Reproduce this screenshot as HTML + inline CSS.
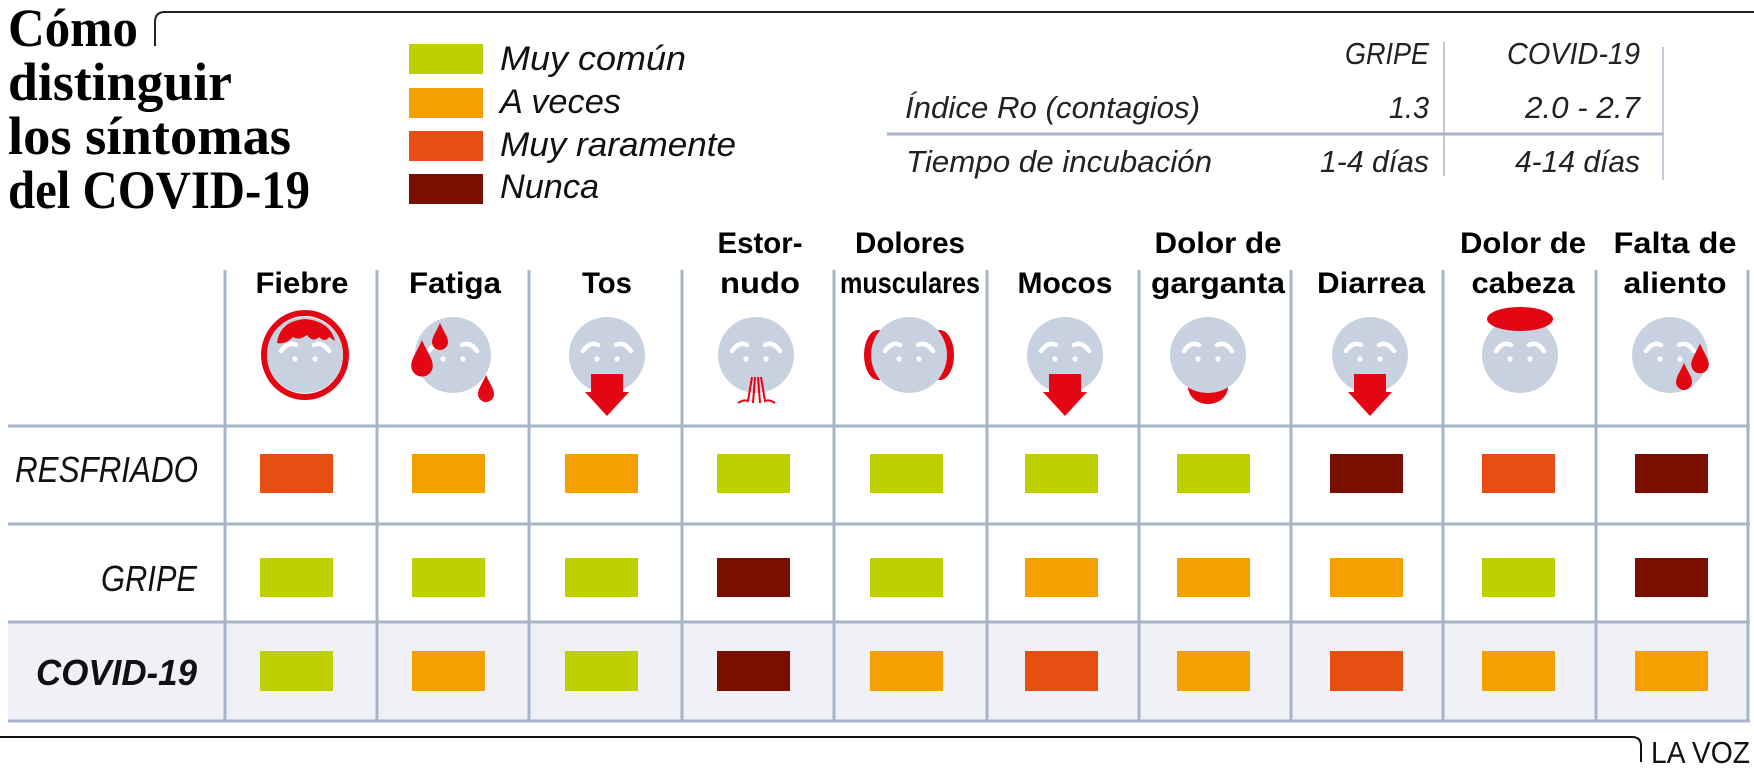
<!DOCTYPE html>
<html><head><meta charset="utf-8"><style>
html,body{margin:0;padding:0;background:#fff;}
svg{display:block;}
</style></head><body>
<svg width="1754" height="770" viewBox="0 0 1754 770" xmlns="http://www.w3.org/2000/svg">
<defs>
<g id="face">
<circle cx="0" cy="0" r="38" fill="#c8d1df"/>
<path d="M-24,-4 Q-17,-14 -9,-10" stroke="#fff" stroke-width="4.5" fill="none" stroke-linecap="round"/>
<path d="M24,-4 Q17,-14 9,-10" stroke="#fff" stroke-width="4.5" fill="none" stroke-linecap="round"/>
<circle cx="-10" cy="4" r="2.6" fill="#fff"/>
<circle cx="10" cy="4" r="2.6" fill="#fff"/>
</g>
<g id="arrow"><path d="M-16,19 H16 V37 H22 L0,61 L-22,37 H-16 Z" fill="#e30613"/></g>
<path id="drop" d="M0,-14 C4,-5 8,0 8,5 A8,8 0 0 1 -8,5 C-8,0 -4,-5 0,-14 Z" fill="#e30613"/>
</defs>

<g font-family="Liberation Serif, serif" font-weight="bold" font-size="54" fill="#000">
<text x="8" y="46" textLength="130" lengthAdjust="spacingAndGlyphs">Cómo</text>
<text x="8" y="100" textLength="224" lengthAdjust="spacingAndGlyphs">distinguir</text>
<text x="8" y="154" textLength="283" lengthAdjust="spacingAndGlyphs">los síntomas</text>
<text x="8" y="208" textLength="302" lengthAdjust="spacingAndGlyphs">del COVID-19</text>
</g>
<path d="M155,46 V22 Q155,12 165,12 H1754" stroke="#222" stroke-width="2" fill="none"/>

<rect x="409" y="44" width="74" height="30" fill="#bed000"/>
<rect x="409" y="88" width="74" height="30" fill="#f59f00"/>
<rect x="409" y="131" width="74" height="30" fill="#e84e11"/>
<rect x="409" y="174" width="74" height="30" fill="#7a0f00"/>
<g font-family="Liberation Sans, sans-serif" font-style="italic" font-size="34" fill="#111">
<text x="500" y="70" textLength="186" lengthAdjust="spacingAndGlyphs">Muy común</text>
<text x="500" y="113" textLength="121" lengthAdjust="spacingAndGlyphs">A veces</text>
<text x="500" y="156" textLength="236" lengthAdjust="spacingAndGlyphs">Muy raramente</text>
<text x="500" y="198" textLength="99" lengthAdjust="spacingAndGlyphs">Nunca</text>
</g>

<g stroke="#c3cbdb" stroke-width="2"><line x1="1444" y1="42" x2="1444" y2="176"/><line x1="1663" y1="47" x2="1663" y2="180"/></g>
<line x1="887" y1="134" x2="1663" y2="134" stroke="#a7b4c9" stroke-width="3"/>
<g font-family="Liberation Sans, sans-serif" font-style="italic" font-size="31" fill="#222">
<text x="1429" y="64" text-anchor="end" textLength="84" lengthAdjust="spacingAndGlyphs">GRIPE</text>
<text x="1640" y="64" text-anchor="end" textLength="133" lengthAdjust="spacingAndGlyphs">COVID-19</text>
<text x="905" y="118" textLength="295" lengthAdjust="spacingAndGlyphs">Índice Ro (contagios)</text>
<text x="1429" y="118" text-anchor="end" textLength="40" lengthAdjust="spacingAndGlyphs">1.3</text>
<text x="1640" y="118" text-anchor="end" textLength="115" lengthAdjust="spacingAndGlyphs">2.0 - 2.7</text>
<text x="906" y="172" textLength="306" lengthAdjust="spacingAndGlyphs">Tiempo de incubación</text>
<text x="1429" y="172" text-anchor="end" textLength="109" lengthAdjust="spacingAndGlyphs">1-4 días</text>
<text x="1640" y="172" text-anchor="end" textLength="125" lengthAdjust="spacingAndGlyphs">4-14 días</text>
</g>

<rect x="8" y="622" width="1741" height="99" fill="#eff1f6"/>

<g stroke="#a7b4c9" stroke-width="3">
<line x1="8" y1="426" x2="1750" y2="426"/>
<line x1="8" y1="524" x2="1750" y2="524"/>
<line x1="8" y1="622" x2="1750" y2="622"/>
<line x1="8" y1="721" x2="1750" y2="721"/>
<line x1="225" y1="270" x2="225" y2="721"/>
<line x1="377" y1="270" x2="377" y2="721"/>
<line x1="529" y1="270" x2="529" y2="721"/>
<line x1="682" y1="270" x2="682" y2="721"/>
<line x1="834" y1="270" x2="834" y2="721"/>
<line x1="987" y1="270" x2="987" y2="721"/>
<line x1="1139" y1="270" x2="1139" y2="721"/>
<line x1="1291" y1="270" x2="1291" y2="721"/>
<line x1="1443" y1="270" x2="1443" y2="721"/>
<line x1="1596" y1="270" x2="1596" y2="721"/>
<line x1="1748" y1="270" x2="1748" y2="721"/>
</g>

<g font-family="Liberation Sans, sans-serif" font-weight="bold" font-size="30" fill="#000" text-anchor="middle">
<text x="302" y="293" textLength="93" lengthAdjust="spacingAndGlyphs">Fiebre</text>
<text x="455" y="293" textLength="92" lengthAdjust="spacingAndGlyphs">Fatiga</text>
<text x="607" y="293" textLength="50" lengthAdjust="spacingAndGlyphs">Tos</text>
<text x="760" y="253" textLength="85" lengthAdjust="spacingAndGlyphs">Estor-</text>
<text x="760" y="293" textLength="80" lengthAdjust="spacingAndGlyphs">nudo</text>
<text x="910" y="253" textLength="110" lengthAdjust="spacingAndGlyphs">Dolores</text>
<text x="910" y="293" textLength="140" lengthAdjust="spacingAndGlyphs">musculares</text>
<text x="1065" y="293" textLength="95" lengthAdjust="spacingAndGlyphs">Mocos</text>
<text x="1218" y="253" textLength="127" lengthAdjust="spacingAndGlyphs">Dolor de</text>
<text x="1218" y="293" textLength="134" lengthAdjust="spacingAndGlyphs">garganta</text>
<text x="1371" y="293" textLength="108" lengthAdjust="spacingAndGlyphs">Diarrea</text>
<text x="1523" y="253" textLength="126" lengthAdjust="spacingAndGlyphs">Dolor de</text>
<text x="1523" y="293" textLength="103" lengthAdjust="spacingAndGlyphs">cabeza</text>
<text x="1675" y="253" textLength="123" lengthAdjust="spacingAndGlyphs">Falta de</text>
<text x="1675" y="293" textLength="103" lengthAdjust="spacingAndGlyphs">aliento</text>
</g>

<g transform="translate(305,355)">
<ellipse cx="0" cy="0" rx="41" ry="42" fill="none" stroke="#e30613" stroke-width="6"/>
<use href="#face"/>
<path d="M-28,-12 Q-25,-34 0,-36 Q25,-34 30,-14 L24,-18 Q20,-12 14,-18 Q8,-12 2,-20 Q-6,-14 -12,-18 Q-20,-10 -28,-12 Z" fill="#e30613"/>
</g>
<g transform="translate(453,355)"><use href="#face"/>
<use href="#drop" transform="translate(-31,4) scale(1.35)"/>
<use href="#drop" transform="translate(-13,-18)"/>
<use href="#drop" transform="translate(33,34)"/></g>
<g transform="translate(607,355)"><use href="#face"/><use href="#arrow"/></g>
<g transform="translate(756,355)"><use href="#face"/>
<g stroke="#e30613" stroke-width="2" fill="none">
<path d="M-4,22 L-8,46 Q-12,44 -18,48"/><path d="M-1,22 L-3,48"/><path d="M2,22 L4,48"/><path d="M5,22 L9,46 Q13,44 19,48"/>
</g></g>
<g transform="translate(909,355)">
<ellipse cx="-31" cy="0" rx="14" ry="25" fill="#e30613"/>
<ellipse cx="31" cy="0" rx="14" ry="25" fill="#e30613"/>
<use href="#face"/></g>
<g transform="translate(1065,355)"><use href="#face"/><use href="#arrow"/></g>
<g transform="translate(1208,355)">
<ellipse cx="0" cy="32" rx="20" ry="17" fill="#e30613"/>
<use href="#face"/></g>
<g transform="translate(1370,355)"><use href="#face"/><use href="#arrow"/></g>
<g transform="translate(1520,355)"><use href="#face"/>
<ellipse cx="0" cy="-36" rx="33" ry="12" fill="#e30613"/></g>
<g transform="translate(1670,355)"><use href="#face"/>
<use href="#drop" transform="translate(30,4) scale(1.1)"/>
<use href="#drop" transform="translate(14,22)"/></g>

<g font-family="Liberation Sans, sans-serif" font-style="italic" font-size="36" fill="#111" text-anchor="end">
<text x="198" y="482" textLength="183" lengthAdjust="spacingAndGlyphs">RESFRIADO</text>
<text x="197" y="591" textLength="96" lengthAdjust="spacingAndGlyphs">GRIPE</text>
<text x="197" y="685" font-weight="bold" textLength="161" lengthAdjust="spacingAndGlyphs">COVID-19</text>
</g>

<g>
<rect x="260" y="454" width="73" height="39" fill="#e84e11"/>
<rect x="412" y="454" width="73" height="39" fill="#f59f00"/>
<rect x="565" y="454" width="73" height="39" fill="#f59f00"/>
<rect x="717" y="454" width="73" height="39" fill="#bed000"/>
<rect x="870" y="454" width="73" height="39" fill="#bed000"/>
<rect x="1025" y="454" width="73" height="39" fill="#bed000"/>
<rect x="1177" y="454" width="73" height="39" fill="#bed000"/>
<rect x="1330" y="454" width="73" height="39" fill="#7a0f00"/>
<rect x="1482" y="454" width="73" height="39" fill="#e84e11"/>
<rect x="1635" y="454" width="73" height="39" fill="#7a0f00"/>
<rect x="260" y="558" width="73" height="39" fill="#bed000"/>
<rect x="412" y="558" width="73" height="39" fill="#bed000"/>
<rect x="565" y="558" width="73" height="39" fill="#bed000"/>
<rect x="717" y="558" width="73" height="39" fill="#7a0f00"/>
<rect x="870" y="558" width="73" height="39" fill="#bed000"/>
<rect x="1025" y="558" width="73" height="39" fill="#f59f00"/>
<rect x="1177" y="558" width="73" height="39" fill="#f59f00"/>
<rect x="1330" y="558" width="73" height="39" fill="#f59f00"/>
<rect x="1482" y="558" width="73" height="39" fill="#bed000"/>
<rect x="1635" y="558" width="73" height="39" fill="#7a0f00"/>
<rect x="260" y="651" width="73" height="40" fill="#bed000"/>
<rect x="412" y="651" width="73" height="40" fill="#f59f00"/>
<rect x="565" y="651" width="73" height="40" fill="#bed000"/>
<rect x="717" y="651" width="73" height="40" fill="#7a0f00"/>
<rect x="870" y="651" width="73" height="40" fill="#f59f00"/>
<rect x="1025" y="651" width="73" height="40" fill="#e84e11"/>
<rect x="1177" y="651" width="73" height="40" fill="#f59f00"/>
<rect x="1330" y="651" width="73" height="40" fill="#e84e11"/>
<rect x="1482" y="651" width="73" height="40" fill="#f59f00"/>
<rect x="1635" y="651" width="73" height="40" fill="#f59f00"/>
</g>

<path d="M0,737 H1632 Q1641,737 1641,746 V762" stroke="#111" stroke-width="2" fill="none"/>
<text x="1651" y="763" font-family="Liberation Sans, sans-serif" font-size="31" fill="#111" textLength="99" lengthAdjust="spacingAndGlyphs">LA VOZ</text>
</svg>
</body></html>
